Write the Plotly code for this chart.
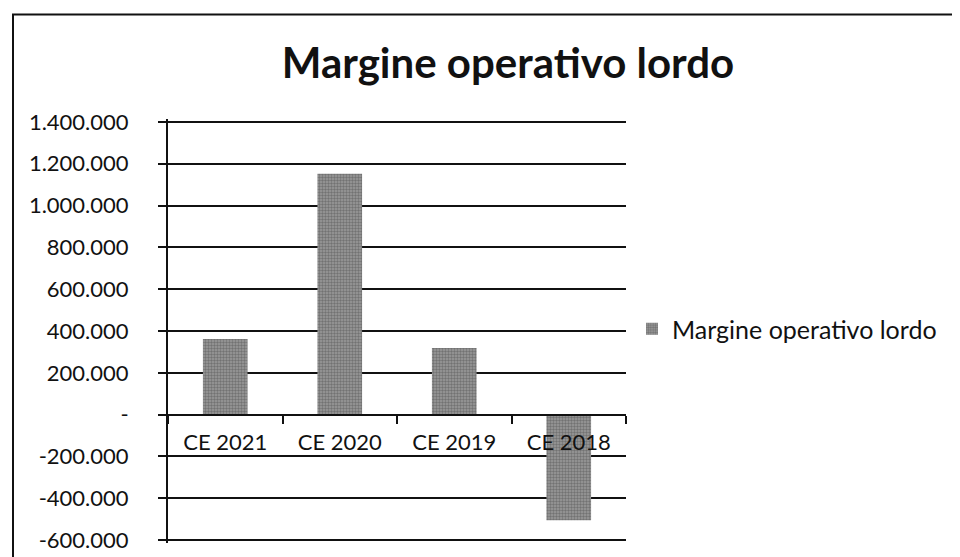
import plotly.graph_objects as go

# ---- data ----
categories = ["CE 2021", "CE 2020", "CE 2019", "CE 2018"]
values = [362000, 1152000, 319000, -505000]
series_name = "Margine operativo lordo"
title_text = "Margine operativo lordo"
y_tickvals = [-600000, -400000, -200000, 0, 200000, 400000, 600000,
              800000, 1000000, 1200000, 1400000]
y_ticktext = ["-600.000", "-400.000", "-200.000", "-", "200.000", "400.000",
              "600.000", "800.000", "1.000.000", "1.200.000", "1.400.000"]

W, H = 960, 557
EXTRA = 3  # px of padding beyond first/last gridline so they are drawn
L, R, T, B = 160, 342, 114 - EXTRA, 23 - EXTRA
pw = W - L - R
ph = H - T - B

FONT = "Lato"
INK = "#111111"

ymin, ymax = y_tickvals[0], y_tickvals[-1]
pad = (ymax - ymin) / (ph - 2 * EXTRA) * EXTRA
r0, r1 = ymin - pad, ymax + pad
zero_pos = (0 - r0) / (r1 - r0)

fig = go.Figure()
fig.add_trace(go.Bar(
    x=categories, y=values, name=series_name,
    marker=dict(color="#858585", line=dict(width=0),
                pattern=dict(shape=".", fgcolor="#4a4a4a", bgcolor="#9a9a9a",
                             size=3, solidity=0.5)),
    showlegend=True,
))

fig.update_layout(
    width=W, height=H,
    margin=dict(l=L, r=R, t=T, b=B, pad=0),
    paper_bgcolor="white", plot_bgcolor="white",
    font=dict(family=FONT, size=22, color=INK),
    title=dict(text="<b>" + title_text + "</b>", x=500 / W, xanchor="center",
               y=1 - 55 / H, yanchor="middle",
               font=dict(family=FONT, size=42, color=INK)),
    bargap=0.61,
    showlegend=True,
    legend=dict(x=(624 - L) / pw, y=1 - (322 - T) / ph, xanchor="left", yanchor="middle",
                font=dict(family=FONT, size=25, color=INK),
                bgcolor="rgba(0,0,0,0)", borderwidth=0, itemwidth=30),
    xaxis=dict(
        type="category", anchor="free", position=zero_pos,
        showline=True, linecolor=INK, linewidth=2,
        ticks="outside", ticklen=8, tickwidth=1.5, tickcolor=INK,
        tickson="boundaries", showgrid=False,
        ticklabelstandoff=8,
        tickfont=dict(family=FONT, size=22, color=INK),
    ),
    yaxis=dict(
        range=[r0, r1], tickmode="array",
        tickvals=y_tickvals, ticktext=y_ticktext,
        showline=True, linecolor=INK, linewidth=2,
        ticks="outside", ticklen=8, tickwidth=2, tickcolor=INK,
        showgrid=True, gridcolor=INK, gridwidth=2,
        zeroline=False,
        ticklabelstandoff=25,
        tickfont=dict(family=FONT, size=22, color=INK),
    ),
    shapes=[dict(type="rect", xref="paper", yref="paper",
                 x0=(5 - L) / pw, x1=(970 - L) / pw,
                 y0=-(B + 20) / ph, y1=1 + (T - 6) / ph,
                 line=dict(color=INK, width=2), fillcolor="rgba(0,0,0,0)",
                 layer="below")],
)

fig.write_html("out.html")
